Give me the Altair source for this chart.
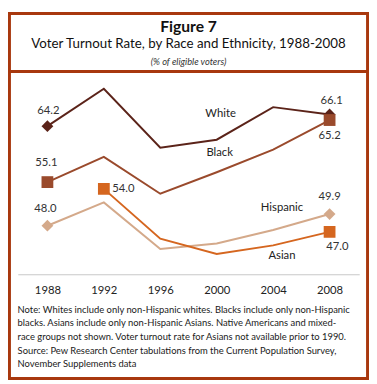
import altair as alt
import pandas as pd

years = [1988, 1992, 1996, 2000, 2004, 2008]
series_names = ["White", "Black", "Hispanic", "Asian"]
white = [64.2, 70.3, 60.7, 62.0, 67.3, 66.1]
black = [55.1, 59.2, 53.2, 56.7, 60.4, 65.2]
hispanic = [48.0, 51.8, 44.2, 45.1, 47.3, 49.9]
asian = [None, 54.0, 45.9, 43.4, 44.8, 47.0]
colors = ["#5b2319", "#9a4a2c", "#d4a98a", "#d5661f"]
shapes = ["diamond", "square", "diamond", "square"]

title_main = "Figure 7"
title_sub = "Voter Turnout Rate, by Race and Ethnicity, 1988-2008"
title_unit = "(% of eligible voters)"
notes = [
    "Note: Whites include only non-Hispanic whites.  Blacks include only non-Hispanic",
    "blacks. Asians include only non-Hispanic Asians. Native Americans and mixed-",
    "race groups not shown. Voter turnout rate for Asians not available prior to 1990.",
    "Source: Pew Research Center tabulations from the Current Population Survey,",
    "November Supplements data",
]

FONT = "Lato"
FRAME = "#a8380e"

rows = []
for name, vals in zip(series_names, [white, black, hispanic, asian]):
    for y, v in zip(years, vals):
        if v is not None:
            rows.append({"series": name, "year": y, "value": v})
df = pd.DataFrame(rows)

val_rows = []
def add_val(name, year, dx, dy):
    v = df[(df.series == name) & (df.year == year)].value.iloc[0]
    val_rows.append({"series": name, "year": year, "value": v,
                     "label": f"{v:.1f}", "dx": dx, "dy": dy})

add_val("White", 1988, 1, -15)
add_val("White", 2008, 2, -14)
add_val("Black", 1988, -1, -19)
add_val("Black", 2008, 0, 16)
add_val("Hispanic", 1988, -2, -17)
add_val("Hispanic", 2008, 0, -17)
add_val("Asian", 1992, 20, 0)
add_val("Asian", 2008, 8, 16)

name_rows = []
for name, year, dx, dy in [("White", 2000, 4, -26), ("Black", 2000, 3, -20),
                           ("Hispanic", 2004, 9, -22), ("Asian", 2004, 9, 11)]:
    v = df[(df.series == name) & (df.year == year)].value.iloc[0]
    name_rows.append({"series": name, "year": year, "value": v, "label": name, "dx": dx, "dy": dy})

xscale = alt.Scale(domain=[1985.9, 2010.1], nice=False, zero=False)
yscale = alt.Scale(domain=[40.1, 72.9], nice=False, zero=False)
cscale = alt.Scale(domain=series_names, range=colors)
sscale = alt.Scale(domain=series_names, range=shapes)

X = alt.X("year:Q", scale=xscale,
          axis=alt.Axis(values=years, format="d", title=None, ticks=False, grid=False,
                        domainColor="#c8c8c8", domainWidth=1.2, labelFont=FONT,
                        labelFontSize=11.5, labelColor="#222", labelPadding=11))
Y = alt.Y("value:Q", scale=yscale, axis=None)

base = alt.Chart(df)
lines = base.mark_line(strokeWidth=2).encode(
    x=X, y=Y, color=alt.Color("series:N", scale=cscale, legend=None),
    detail="series:N")
points = base.mark_point(filled=True, opacity=1, size=145).encode(
    x="year:Q", y="value:Q",
    color=alt.Color("series:N", scale=cscale, legend=None),
    shape=alt.Shape("series:N", scale=sscale, legend=None)
).transform_filter(alt.FieldOneOfPredicate(field="year", oneOf=[1988, 2008]) |
                   ((alt.datum.series == "Asian") & (alt.datum.year == 1992)))

val_layers = []
for r in val_rows:
    val_layers.append(
        alt.Chart(pd.DataFrame([r])).mark_text(
            font=FONT, fontSize=11.5, color="#333", dx=r["dx"], dy=r["dy"],
            align="center", baseline="middle"
        ).encode(x="year:Q", y="value:Q", text="label:N"))
name_layers = []
for r in name_rows:
    name_layers.append(
        alt.Chart(pd.DataFrame([r])).mark_text(
            font=FONT, fontSize=11.5, color="#222", dx=r["dx"], dy=r["dy"],
            align="center", baseline="middle"
        ).encode(x="year:Q", y="value:Q", text="label:N"))

one = pd.DataFrame({"a": [0]})
frame = alt.Chart(one).mark_rect(filled=False, stroke=FRAME, strokeWidth=3).encode(
    x=alt.value(-8.5), x2=alt.value(357.5), y=alt.value(-60.5), y2=alt.value(312.5))
divider = alt.Chart(one).mark_rule(stroke=FRAME, strokeWidth=3).encode(
    x=alt.value(-8.5), x2=alt.value(357.5), y=alt.value(-1.3))

t1 = alt.Chart(pd.DataFrame({"t": [title_main]})).mark_text(
    font=FONT, fontSize=16, fontWeight="bold", color="#111", align="center", baseline="middle"
).encode(x=alt.value(174.5), y=alt.value(-47), text="t:N")
t2 = alt.Chart(pd.DataFrame({"t": [title_sub]})).mark_text(
    font=FONT, fontSize=13.6, color="#111", align="center", baseline="middle"
).encode(x=alt.value(174.5), y=alt.value(-29.5), text="t:N")
t3 = alt.Chart(pd.DataFrame({"t": [title_unit]})).mark_text(
    font=FONT, fontSize=9.5, fontStyle="italic", color="#333", align="center", baseline="middle"
).encode(x=alt.value(174.5), y=alt.value(-11), text="t:N")

note_layers = []
note_ys = [242.5, 256.2, 269.9, 284.6, 297.3]
for txt, yy in zip(notes, note_ys):
    note_layers.append(alt.Chart(pd.DataFrame({"t": [txt]})).mark_text(
        font=FONT, fontSize=9.6, color="#1a1a1a", align="left", baseline="middle"
    ).encode(x=alt.value(-0.2), y=alt.value(yy), text="t:N"))

chart = alt.layer(
    lines, points, *val_layers, *name_layers, frame, divider, t1, t2, t3, *note_layers
).properties(
    width=349, height=206,
    autosize=alt.AutoSizeParams(type="none"),
    padding={"left": 10, "top": 62, "right": 10, "bottom": 108},
    background="white",
).configure_view(stroke=None)

chart.save("out.html", embed_options={"renderer": "svg", "actions": False})
